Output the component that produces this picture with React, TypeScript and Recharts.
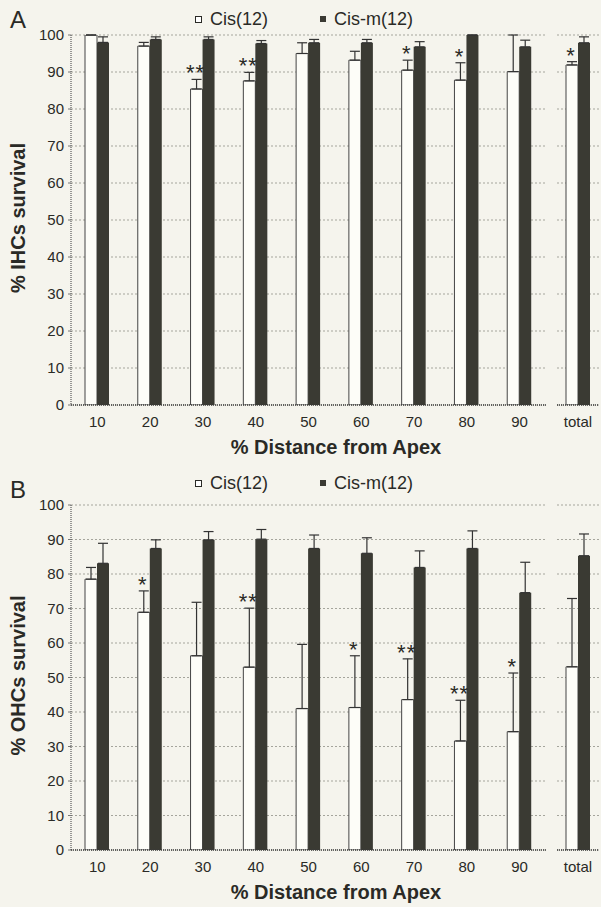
import { BarChart, Bar, XAxis, YAxis, CartesianGrid, ErrorBar, LabelList, Legend } from "recharts"

const distances = ["10", "20", "30", "40", "50", "60", "70", "80", "90"]
const yTicks = [0, 10, 20, 30, 40, 50, 60, 70, 80, 90, 100]

// A: inner hair cells
const ihcCis = [100, 97, 85.4, 87.6, 95, 93.2, 90.5, 87.8, 90.1]
const ihcCisErr = [0, 1, 2.6, 2.3, 2.9, 2.4, 2.7, 4.7, 9.9]
const ihcCisM = [98, 98.8, 98.8, 97.7, 97.9, 97.9, 96.8, 100, 96.8]
const ihcCisMErr = [1.5, 0.7, 0.7, 0.8, 0.9, 0.9, 1.4, 0, 1.8]
const ihcSig = ["", "", "**", "**", "", "", "*", "*", ""]
const ihcTotal = [91.9, 0.9, 97.9, 1.6]
const ihcTotalSig = "*"

// B: outer hair cells
const ohcCis = [78.5, 68.9, 56.3, 53, 41, 41.3, 43.6, 31.6, 34.3]
const ohcCisErr = [3.4, 6.2, 15.5, 17.1, 18.6, 15, 11.8, 11.8, 17]
const ohcCisM = [83.1, 87.4, 89.9, 90.1, 87.4, 86, 81.9, 87.4, 74.6]
const ohcCisMErr = [5.8, 2.5, 2.4, 2.8, 3.9, 4.5, 4.8, 5.1, 8.8]
const ohcSig = ["", "*", "", "**", "", "*", "**", "**", "*"]
const ohcTotal = [53.1, 19.8, 85.3, 6.3]
const ohcTotalSig = ""

const FONT = "'Liberation Sans', Arial, sans-serif"
const INK = "#2a2a26"
const DARK = "#3a3a33"
const PAPER = "#f5f4ed"

type Row = { name: string; cis: number; cisErr: number[]; cisM: number; cisMErr: number[]; sig: string }

const buildRows = (cis: number[], cisErr: number[], cisM: number[], cisMErr: number[], sig: string[]): Row[] =>
  distances.map((d, i) => ({
    name: d,
    cis: cis[i],
    cisErr: [0, cisErr[i]],
    cisM: cisM[i],
    cisMErr: [0, cisMErr[i]],
    sig: sig[i],
  }))

const totalRow = (t: number[], sig: string): Row[] => [
  { name: "total", cis: t[0], cisErr: [0, t[1]], cisM: t[2], cisMErr: [0, t[3]], sig },
]

// stars sit just above the top of the Cis error bar
const makeStar = (rows: Row[]) => (props: any) => {
  const row = rows[props.index]
  if (!row || !row.sig) return null
  const vb = props.viewBox ?? props
  const { x, y, width, height } = vb
  const capY = y - row.cisErr[1] * (height / row.cis)
  return (
    <text x={x + width / 2 - 1} y={capY + 1} textAnchor="middle" fontSize={22} letterSpacing={1} fontFamily={FONT} fill={INK}>
      {row.sig}
    </text>
  )
}

const LegendBox = () => (
  <div style={{ display: "flex", alignItems: "center", fontFamily: FONT, fontSize: 18, lineHeight: "18px", color: INK }}>
    <span style={{ width: 5, height: 5, border: `1px solid ${INK}`, background: "#fff", marginRight: 8 }} />
    <span>Cis(12)</span>
    <span style={{ width: 6, height: 6, background: DARK, marginLeft: 52, marginRight: 8 }} />
    <span>Cis-m(12)</span>
  </div>
)

interface PanelProps {
  letter: string
  top: number
  chartH: number
  plotH: number
  yTitle: string
  rows: Row[]
  total: Row[]
}

function Panel({ letter, top, chartH, plotH, yTitle, rows, total }: PanelProps) {
  const xAxisH = chartH - 35 - plotH
  const axisLine = { stroke: "#3a3a3a", strokeDasharray: "1 1", strokeWidth: 1.5 }
  const tick = { fontSize: 15, fill: INK, fontFamily: FONT }
  const grid = <CartesianGrid vertical={false} stroke="#a5a59c" strokeDasharray="2 2" />

  const series = (data: Row[]) => [
    <Bar key="cis" dataKey="cis" fill="#fdfdf8" stroke="#444" strokeWidth={1} isAnimationActive={false}>
      <ErrorBar dataKey="cisErr" width={5} stroke="#333" strokeWidth={1.2} />
      <LabelList dataKey="sig" content={makeStar(data)} />
    </Bar>,
    <Bar key="cisM" dataKey="cisM" fill={DARK} isAnimationActive={false}>
      <ErrorBar dataKey="cisMErr" width={5} stroke="#333" strokeWidth={1.2} />
    </Bar>,
  ]

  return (
    <>
      <div style={{ position: "absolute", left: 0, top }}>
        <BarChart width={550} height={chartH} data={rows} margin={{ top: 35, right: 4, left: 0, bottom: 0 }} barGap={0} barSize={12}>
          {grid}
          <XAxis dataKey="name" height={xAxisH} tickLine={false} tickSize={0} tickMargin={11} axisLine={axisLine} tick={tick} />
          <YAxis domain={[0, 100]} ticks={yTicks} width={71} allowDataOverflow tickSize={3} tickMargin={4}
            axisLine={{ stroke: "#3a3a3a", strokeDasharray: "1 1" }} tickLine={{ stroke: "#777" }} tick={tick} />
          <Legend layout="horizontal" verticalAlign="middle" align="center" content={<LegendBox />}
            wrapperStyle={{ top: top === 0 ? 10 : 4, left: 195, width: 260 }} />
          {series(rows)}
          <text x={10} y={28} fontSize={24} fontFamily={FONT} fill={INK}>{letter}</text>
          <text x={18} y={35 + plotH / 2 - 2} transform={`rotate(-90, 18, ${35 + plotH / 2 - 2})`} textAnchor="middle"
            dominantBaseline="central" fontSize={20} fontWeight="bold" fontFamily={FONT} fill={INK}>
            {yTitle}
          </text>
          <text x={336} y={35 + plotH + 49} textAnchor="middle" fontSize={20} fontWeight="bold" fontFamily={FONT} fill={INK}>
            % Distance from Apex
          </text>
        </BarChart>
      </div>
      <div style={{ position: "absolute", left: 557, top }}>
        <BarChart width={44} height={chartH} data={total} margin={{ top: 35, right: 2, left: 0, bottom: 0 }} barGap={0} barSize={12}>
          {grid}
          <XAxis dataKey="name" height={xAxisH} tickLine={false} tickSize={0} tickMargin={11} axisLine={axisLine} tick={tick} />
          <YAxis hide domain={[0, 100]} ticks={yTicks} allowDataOverflow />
          {series(total)}
        </BarChart>
      </div>
    </>
  )
}

export default function App() {
  const ihcRows = buildRows(ihcCis, ihcCisErr, ihcCisM, ihcCisMErr, ihcSig)
  const ohcRows = buildRows(ohcCis, ohcCisErr, ohcCisM, ohcCisMErr, ohcSig)
  return (
    <div style={{ position: "absolute", left: 0, top: 0, width: 601, height: 907, background: PAPER, overflow: "hidden" }}>
      <Panel letter="A" top={0} chartH={460} plotH={370} yTitle="% IHCs survival" rows={ihcRows} total={totalRow(ihcTotal, ihcTotalSig)} />
      <Panel letter="B" top={470} chartH={437} plotH={345} yTitle="% OHCs survival" rows={ohcRows} total={totalRow(ohcTotal, ohcTotalSig)} />
    </div>
  )
}
